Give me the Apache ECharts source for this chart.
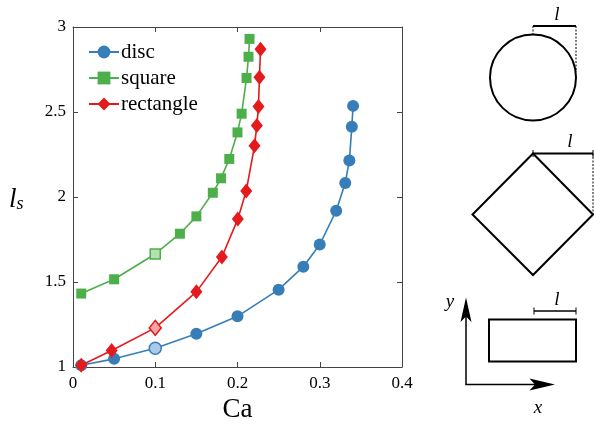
<!DOCTYPE html>
<html>
<head>
<meta charset="utf-8">
<script src="https://cdn.jsdelivr.net/npm/echarts@6/dist/echarts.min.js"></script>
<style>html,body{margin:0;padding:0;background:#fff}#c{width:594px;height:425px}</style>
</head>
<body>
<div id="c"></div>
<script>
// ---- data ----
var discCa   = [0.01, 0.05, 0.10, 0.15, 0.20, 0.25, 0.28, 0.30, 0.32, 0.331, 0.336, 0.339, 0.3405];
var discLs   = [1.01, 1.048, 1.11, 1.195, 1.298, 1.455, 1.59, 1.72, 1.919, 2.083, 2.215, 2.413, 2.536];
var squareCa = [0.01, 0.05, 0.10, 0.13, 0.15, 0.17, 0.18, 0.19, 0.20, 0.205, 0.211, 0.2134, 0.2146];
var squareLs = [1.432, 1.516, 1.665, 1.784, 1.886, 2.025, 2.11, 2.224, 2.38, 2.49, 2.70, 2.825, 2.93];
var rectCa   = [0.01, 0.047, 0.10, 0.15, 0.181, 0.2004, 0.2106, 0.2207, 0.2235, 0.2255, 0.2267, 0.228];
var rectLs   = [1.01, 1.097, 1.23, 1.442, 1.647, 1.87, 2.035, 2.301, 2.42, 2.532, 2.705, 2.869];
var highlightCa = 0.10;
var seriesNames = ['disc', 'square', 'rectangle'];
var xTicks = [0, 0.1, 0.2, 0.3, 0.4];
var yTicks = [1, 1.5, 2, 2.5, 3];

var SERIF = 'Liberation Serif';
var colors = ['#377eb8', '#4daf4a', '#e41a1c'];
var lightColors = ['#a9cbe8', '#b5e0b3', '#f4a3a4'];

function build(xs, ys, k) {
  return xs.map(function (x, i) {
    var d = { value: [x, ys[i]] };
    if (x === highlightCa) {
      d.itemStyle = { color: lightColors[k], borderColor: colors[k], borderWidth: 1.5 };
    }
    return d;
  });
}

var chart = echarts.init(document.getElementById('c'), null, { renderer: 'canvas' });
var axisCol = '#444';

var option = {
  animation: false,
  backgroundColor: '#fff',
  grid: { left: 73, top: 27, width: 329, height: 340, containLabel: false, outerBoundsMode: 'none' },
  legend: {
    orient: 'vertical', left: 83, top: 36, itemWidth: 30, itemHeight: 16, itemGap: 4,
    textStyle: { fontFamily: SERIF, fontSize: 21, color: '#000', lineHeight: 22, padding: [0, 0, 0, -3] },
    data: seriesNames
  },
  xAxis: [{
    type: 'value', min: 0, max: 0.4, interval: 0.1, position: 'bottom',
    name: 'Ca', nameLocation: 'middle', nameGap: 27,
    nameTextStyle: { fontFamily: SERIF, fontSize: 27, color: '#000' },
    axisLine: { show: true, onZero: false, lineStyle: { color: axisCol, width: 1 } },
    axisTick: { show: true, inside: true, length: 5, lineStyle: { color: axisCol } },
    axisLabel: { fontFamily: SERIF, fontSize: 17, color: '#000', margin: 8,
      formatter: function (v) { return xTicks.indexOf(+v.toFixed(2)) >= 0 ? String(+v.toFixed(2)) : ''; } },
    splitLine: { show: false }
  }, {
    type: 'value', min: 0, max: 0.4, interval: 0.1, position: 'top',
    axisLine: { show: true, onZero: false, lineStyle: { color: axisCol, width: 1 } },
    axisTick: { show: true, inside: true, length: 5, lineStyle: { color: axisCol } },
    axisLabel: { show: false }, splitLine: { show: false }
  }],
  yAxis: [{
    type: 'value', min: 1, max: 3, interval: 0.5, position: 'left',
    axisLine: { show: true, onZero: false, lineStyle: { color: axisCol, width: 1 } },
    axisTick: { show: true, inside: true, length: 5, lineStyle: { color: axisCol } },
    axisLabel: { fontFamily: SERIF, fontSize: 17, color: '#000', margin: 7,
      formatter: function (v) { return yTicks.indexOf(+v.toFixed(2)) >= 0 ? String(+v.toFixed(2)) : ''; } },
    splitLine: { show: false }
  }, {
    type: 'value', min: 1, max: 3, interval: 0.5, position: 'right',
    axisLine: { show: true, onZero: false, lineStyle: { color: axisCol, width: 1 } },
    axisTick: { show: true, inside: true, length: 5, lineStyle: { color: axisCol } },
    axisLabel: { show: false }, splitLine: { show: false }
  }],
  series: [{
    name: 'disc', type: 'line', data: build(discCa, discLs, 0), clip: false,
    symbol: 'circle', symbolSize: 12, color: colors[0],
    lineStyle: { color: colors[0], width: 1.6 }, itemStyle: { color: colors[0] }, z: 3
  }, {
    name: 'square', type: 'line', data: build(squareCa, squareLs, 1), clip: false,
    symbol: 'rect', symbolSize: 10, color: colors[1],
    lineStyle: { color: colors[1], width: 1.6 }, itemStyle: { color: colors[1] }, z: 4
  }, {
    name: 'rectangle', type: 'line', data: build(rectCa, rectLs, 2), clip: false,
    symbol: 'diamond', symbolSize: [12, 15], color: colors[2],
    lineStyle: { color: colors[2], width: 1.6 }, itemStyle: { color: colors[2] }, z: 5
  }],
  graphic: [
    // y-axis label l_s
    { type: 'text', left: 9, top: 186, style: {
        text: '{l|l}{s|s}', rich: {
          l: { fontFamily: SERIF, fontStyle: 'italic', fontSize: 27, fill: '#000', verticalAlign: 'bottom' },
          s: { fontFamily: SERIF, fontStyle: 'italic', fontSize: 18, fill: '#000', padding: [12, 0, 0, 0] }
        } } },
    // disc
    { type: 'circle', shape: { cx: 533, cy: 77.5, r: 43 }, style: { fill: 'none', stroke: '#000', lineWidth: 2 } },
    { type: 'line', shape: { x1: 533, y1: 26, x2: 576, y2: 26 }, style: { stroke: '#000', lineWidth: 2 } },
    { type: 'line', shape: { x1: 533, y1: 26, x2: 533, y2: 34 }, style: { stroke: '#000', lineWidth: 1, lineDash: [2, 1.5] } },
    { type: 'line', shape: { x1: 576, y1: 26, x2: 576, y2: 72 }, style: { stroke: '#000', lineWidth: 1, lineDash: [2, 1.5] } },
    { type: 'text', style: { text: 'l', x: 557, y: 15, fontFamily: SERIF, fontStyle: 'italic', fontSize: 19, fill: '#000', align: 'center', verticalAlign: 'middle' } },
    // square (diamond)
    { type: 'polygon', shape: { points: [[533, 153.5], [593, 214.5], [533, 275], [472.5, 214.5]] }, style: { fill: 'none', stroke: '#000', lineWidth: 2 } },
    { type: 'line', shape: { x1: 533, y1: 153.5, x2: 593, y2: 153.5 }, style: { stroke: '#000', lineWidth: 2 } },
    { type: 'line', shape: { x1: 533, y1: 150, x2: 533, y2: 157 }, style: { stroke: '#000', lineWidth: 1 } },
    { type: 'line', shape: { x1: 593, y1: 150, x2: 593, y2: 157 }, style: { stroke: '#000', lineWidth: 1 } },
    { type: 'line', shape: { x1: 593, y1: 153.5, x2: 593, y2: 214 }, style: { stroke: '#000', lineWidth: 1, lineDash: [2, 1.5] } },
    { type: 'text', style: { text: 'l', x: 570, y: 142, fontFamily: SERIF, fontStyle: 'italic', fontSize: 19, fill: '#000', align: 'center', verticalAlign: 'middle' } },
    // rectangle
    { type: 'rect', shape: { x: 489, y: 319.5, width: 87, height: 42 }, style: { fill: 'none', stroke: '#000', lineWidth: 2 } },
    { type: 'line', shape: { x1: 534, y1: 311, x2: 576, y2: 311 }, style: { stroke: '#000', lineWidth: 1.3 } },
    { type: 'line', shape: { x1: 534, y1: 307.5, x2: 534, y2: 314.5 }, style: { stroke: '#000', lineWidth: 1 } },
    { type: 'line', shape: { x1: 576, y1: 307.5, x2: 576, y2: 314.5 }, style: { stroke: '#000', lineWidth: 1 } },
    { type: 'text', style: { text: 'l', x: 557, y: 300, fontFamily: SERIF, fontStyle: 'italic', fontSize: 19, fill: '#000', align: 'center', verticalAlign: 'middle' } },
    // coordinate arrows
    { type: 'line', shape: { x1: 466, y1: 384.5, x2: 466, y2: 310 }, style: { stroke: '#000', lineWidth: 1.5 } },
    { type: 'line', shape: { x1: 465.3, y1: 384.5, x2: 540, y2: 384.5 }, style: { stroke: '#000', lineWidth: 1.5 } },
    { type: 'polygon', shape: { points: [[466, 297.5], [471.5, 322], [466, 316.5], [460.5, 322]] }, style: { fill: '#000', stroke: 'none' } },
    { type: 'polygon', shape: { points: [[555, 384.5], [529.5, 378.5], [535, 384.5], [529.5, 390.5]] }, style: { fill: '#000', stroke: 'none' } },
    { type: 'text', style: { text: 'y', x: 450, y: 302, fontFamily: SERIF, fontStyle: 'italic', fontSize: 19, fill: '#000', align: 'center', verticalAlign: 'middle' } },
    { type: 'text', style: { text: 'x', x: 538, y: 408, fontFamily: SERIF, fontStyle: 'italic', fontSize: 19, fill: '#000', align: 'center', verticalAlign: 'middle' } }
  ]
};
chart.setOption(option);
</script>
</body>
</html>
